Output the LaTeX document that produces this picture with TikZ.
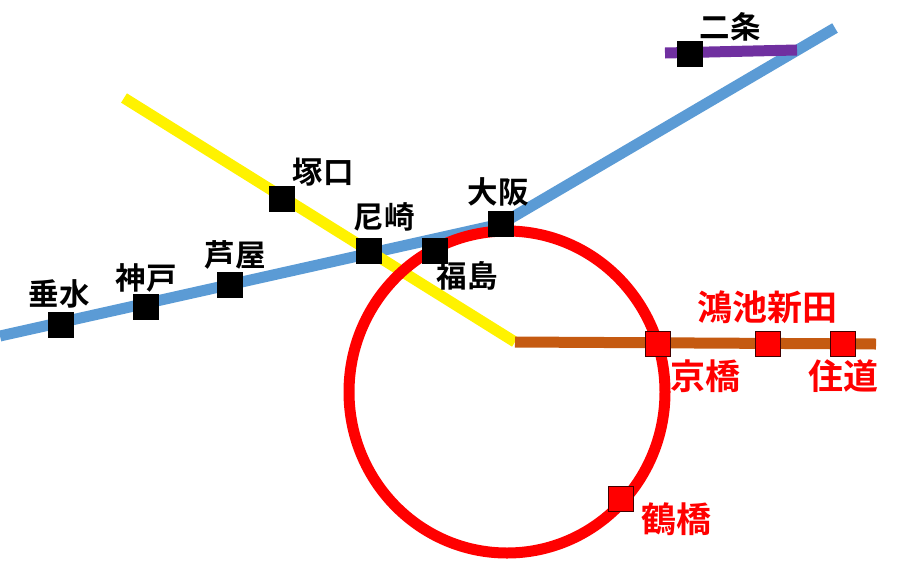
\documentclass[tikz,border=0pt]{standalone}
\usepackage{fontspec}
\setmainfont{Noto Sans CJK JP Bold}
\usepackage{tikz}
\usetikzlibrary{positioning}
\definecolor{lineblue}{HTML}{5B9BD5}
\definecolor{linebrown}{HTML}{C55A11}
\definecolor{linepurple}{HTML}{7030A0}
\tikzset{
  railline/.style={line width=11pt},
  blacksta/.style={draw=black,fill=black,rectangle,minimum width=25pt,minimum height=25pt,inner sep=0pt},
  redsta/.style={draw=black!75!red,line width=0.7pt,fill=red,rectangle,minimum width=25pt,minimum height=25pt,inner sep=0pt},
  blacklab/.style={inner sep=0pt,text height=25pt,text depth=6pt,font=\fontsize{30.5}{31}\selectfont},
  redlab/.style={inner sep=0pt,text height=29pt,text depth=6pt,font=\fontsize{35}{36}\selectfont,text=red}
}
\begin{document}
\begin{tikzpicture}[x=1pt,y=-1pt]
\useasboundingbox (0,0) rectangle (899,560);
\coordinate (bluewest) at (0,336);
\coordinate (blueeast) at (835,28);
\coordinate (yellowend) at (124,98);
\coordinate (junction) at (515,342);
\coordinate (brownend) at (876,344);
\coordinate (purplewest) at (665,53);
\coordinate (purpleeast) at (797,50);
\coordinate (osakapt) at (501,224);
\coordinate (ringcentre) at (507,392);
% lines
\draw[railline,lineblue] (bluewest) -- (osakapt) -- (blueeast);
\draw[railline,linepurple] (purplewest) -- (purpleeast);
\draw[railline,yellow] (yellowend) -- (junction);
\draw[railline,linebrown] (junction) -- (brownend);
\draw[railline,red] (ringcentre) ellipse [x radius=158, y radius=161];
% stations
\node[blacksta] (tarumi)   at (61,325)  {};
\node[blacksta] (kobe)     at (146,307) {};
\node[blacksta] (ashiya)   at (230,285) {};
\node[blacksta] (amagasaki) at (369,251) {};
\node[blacksta] (fukushima) at (435,251) {};
\node[blacksta] (osaka)    at (osakapt) {};
\node[blacksta] (tsukaguchi) at (282,199) {};
\node[blacksta] (nijo)     at (690,54)  {};
\node[redsta] (kyobashi)   at (658,344) {};
\node[redsta] (konoike)    at (768,344) {};
\node[redsta] (suminodo)   at (843,344) {};
\node[redsta] (tsuruhashi) at (621,499) {};
% labels
\node[blacklab,above=1pt of tarumi,xshift=-2pt] (tarumilab) {垂水};
\node[blacklab,above=-1pt of kobe] (kobelab) {神戸};
\node[blacklab,above=0pt of ashiya,xshift=5pt] (ashiyalab) {芦屋};
\node[blacklab,above=4pt of amagasaki,xshift=15pt] (amagasakilab) {尼崎};
\node[blacklab,below=-1pt of fukushima,xshift=32pt] (fukushimalab) {福島};
\node[blacklab,above=2pt of osaka,xshift=-3pt] (osakalab) {大阪};
\node[blacklab,above=-3pt of tsukaguchi,xshift=41pt] (tsukaguchilab) {塚口};
\node[blacklab,above=-3pt of nijo,xshift=40pt] (nijolab) {二条};
\node[redlab,above=4pt of konoike,xshift=-1pt] (konoikelab) {鴻池新田};
\node[redlab,below=3pt of kyobashi,xshift=47pt] (kyobashilab) {京橋};
\node[redlab,below=3pt of suminodo] (suminodolab) {住道};
\node[redlab,below=-9pt of tsuruhashi,xshift=55pt] (tsuruhashilab) {鶴橋};
\end{tikzpicture}
\end{document}
